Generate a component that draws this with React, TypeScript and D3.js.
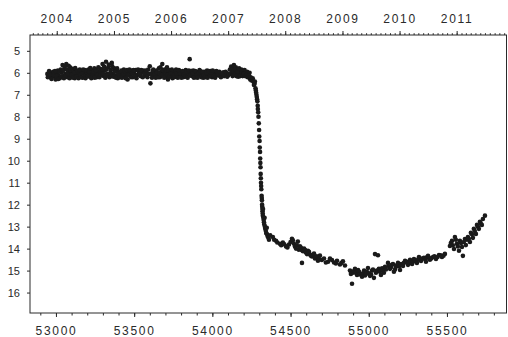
import React, { useEffect, useRef } from "react";
import * as d3 from "d3";

// [MJD, magnitude]
const plateau: [number, number][] = [
  [52945, 6.05], [52952, 6.15], [52960, 5.98], [52968, 6.22], [52975, 6.08], [52982, 5.95],
  [52990, 6.18], [52998, 6.3], [53005, 6.02], [53012, 5.9], [53018, 6.12], [53025, 6.25],
  [53030, 5.85], [53036, 6.0], [53042, 5.65], [53048, 6.15], [53054, 5.8], [53060, 6.05],
  [53066, 5.6], [53072, 6.2], [53078, 5.9], [53084, 6.1], [53090, 5.75], [53096, 6.0],
  [53102, 6.2], [53108, 5.95], [53114, 6.08], [53120, 6.25], [53126, 5.9], [53133, 6.05],
  [53140, 6.15], [53148, 5.98], [53156, 6.1], [53163, 5.92], [53170, 6.22], [53178, 6.0],
  [53185, 5.88], [53192, 6.12], [53200, 6.0], [53208, 5.85], [53215, 6.18], [53222, 6.02],
  [53230, 5.9], [53238, 6.12], [53245, 5.8], [53252, 6.05], [53260, 6.2], [53268, 5.95],
  [53275, 6.08], [53282, 5.82], [53290, 6.0], [53298, 5.6], [53305, 6.15], [53312, 5.9],
  [53320, 5.5], [53327, 6.05], [53334, 5.75], [53342, 6.2], [53350, 5.88], [53357, 5.55],
  [53364, 6.05], [53372, 5.8], [53380, 6.12], [53388, 5.92], [53395, 6.25], [53402, 5.98],
  [53410, 6.1], [53418, 5.9], [53426, 6.02], [53434, 5.85], [53442, 6.15], [53450, 6.0],
  [53458, 6.3], [53466, 5.95], [53475, 6.08], [53484, 5.9], [53492, 6.2], [53500, 6.02],
  [53510, 5.88], [53520, 6.1], [53530, 5.95], [53540, 6.15], [53550, 6.0], [53560, 5.9],
  [53570, 6.12], [53580, 6.0], [53590, 5.85], [53600, 5.7], [53604, 6.48], [53610, 6.05],
  [53618, 5.92], [53626, 6.15], [53634, 6.0], [53642, 5.9], [53650, 6.08], [53658, 5.8],
  [53665, 6.2], [53672, 5.95], [53680, 5.6], [53688, 6.05], [53696, 5.85], [53704, 6.15],
  [53710, 5.75], [53716, 6.3], [53722, 6.0], [53730, 5.9], [53738, 6.1], [53745, 6.25],
  [53752, 5.95], [53760, 6.05], [53768, 5.85], [53775, 6.15], [53782, 6.0], [53790, 5.92],
  [53798, 6.1], [53806, 5.98], [53814, 6.2], [53822, 6.0], [53830, 5.88], [53838, 6.1],
  [53846, 6.02], [53855, 5.38], [53862, 6.0], [53870, 6.15], [53878, 5.9], [53886, 6.05],
  [53894, 6.2], [53902, 5.95], [53910, 6.08], [53918, 5.88], [53926, 6.12], [53934, 6.0],
  [53942, 6.22], [53950, 5.95], [53958, 6.05], [53966, 5.9], [53974, 6.15], [53982, 6.02],
  [53990, 5.92], [53998, 6.2], [54006, 6.05], [54014, 5.95], [54022, 6.1], [54030, 6.0],
  [54040, 6.12], [54050, 6.02], [54060, 6.1], [54070, 5.98], [54080, 6.08], [54090, 6.0],
  [54100, 6.12], [54112, 5.85], [54120, 5.72], [54126, 6.0], [54132, 5.8], [54138, 5.65],
  [54144, 5.95], [54150, 5.75], [54156, 6.05], [54162, 5.85], [54168, 6.0], [54175, 5.9],
  [54182, 6.1], [54190, 5.95], [54198, 6.05], [54206, 5.88], [54214, 6.02], [54222, 5.95],
  [54230, 6.1], [54238, 6.0],
];

const plateauB: [number, number][] = [
  [52948, 6.2], [52956, 5.92], [52964, 6.1], [52972, 6.28], [52986, 6.1], [52994, 5.92],
  [53002, 6.15], [53015, 6.28], [53022, 5.95], [53033, 6.18], [53045, 5.9], [53051, 6.25],
  [53057, 5.7], [53063, 6.12], [53069, 5.85], [53075, 6.02], [53081, 5.68], [53087, 6.25],
  [53093, 5.88], [53099, 6.1], [53105, 5.82], [53111, 6.22], [53117, 6.0], [53123, 5.78],
  [53130, 6.18], [53137, 5.9], [53144, 6.25], [53152, 5.85], [53160, 6.2], [53167, 6.02],
  [53174, 5.85], [53182, 6.15], [53189, 6.25], [53196, 5.9], [53204, 6.15], [53212, 5.95],
  [53219, 5.78], [53226, 6.25], [53234, 6.0], [53241, 5.95], [53248, 6.22], [53256, 5.88],
  [53264, 6.1], [53271, 5.75], [53278, 6.2], [53286, 6.1], [53294, 5.85], [53301, 6.05],
  [53308, 5.72], [53316, 6.22], [53323, 5.85], [53330, 6.12], [53338, 5.62], [53346, 6.02],
  [53353, 6.15], [53360, 5.7], [53368, 6.18], [53376, 5.95], [53384, 6.22], [53391, 5.8],
  [53398, 6.05], [53406, 6.2], [53414, 5.95], [53422, 6.22], [53430, 6.05], [53438, 5.92],
  [53446, 6.25], [53454, 5.88], [53462, 6.1], [53470, 5.85], [53480, 6.2], [53488, 6.02],
  [53496, 5.88], [53505, 6.15], [53515, 6.25], [53525, 5.85], [53535, 6.05], [53545, 5.88],
  [53555, 6.2], [53565, 6.02], [53575, 5.9], [53585, 6.2], [53595, 6.05], [53614, 6.22],
  [53622, 5.85], [53630, 6.08], [53638, 6.22], [53646, 5.98], [53654, 6.2], [53662, 6.02],
  [53668, 5.75], [53676, 6.1], [53684, 5.88], [53692, 6.22], [53700, 6.0], [53707, 5.9],
  [53713, 6.1], [53719, 5.88], [53726, 6.18], [53734, 6.02], [53741, 5.85], [53749, 6.1],
  [53756, 6.2], [53764, 5.92], [53771, 6.05], [53779, 6.22], [53786, 5.88], [53794, 6.02],
  [53802, 6.22], [53810, 5.92], [53818, 6.08], [53826, 6.18], [53834, 5.95], [53842, 6.22],
  [53850, 5.9], [53858, 6.12], [53866, 5.92], [53874, 6.02], [53882, 6.22], [53890, 5.92],
  [53898, 6.1], [53906, 6.22], [53914, 6.0], [53922, 5.92], [53930, 6.2], [53938, 5.95],
  [53946, 6.1], [53954, 6.2], [53962, 6.0], [53970, 6.22], [53978, 5.92], [53986, 6.15],
  [53994, 6.0], [54002, 5.9], [54010, 6.15], [54018, 6.22], [54026, 5.92], [54035, 6.1],
  [54045, 5.95], [54055, 6.2], [54065, 6.05], [54075, 6.15], [54085, 5.95], [54095, 6.18],
  [54106, 6.05], [54116, 6.05], [54123, 5.88], [54129, 6.15], [54135, 5.95], [54141, 6.1],
  [54147, 5.85], [54153, 6.15], [54159, 5.95], [54165, 6.18], [54171, 5.8], [54178, 6.15],
  [54186, 5.85], [54194, 6.15], [54202, 6.05], [54210, 6.15], [54218, 6.1], [54226, 6.2],
  [54234, 6.12], [54242, 6.3],
];

const decline: [number, number][] = [
  [54245, 6.2], [54250, 6.35], [54255, 6.3], [54258, 6.25], [54262, 6.4], [54266, 6.55],
  [54270, 6.5], [54272, 6.4], [54276, 6.7], [54278, 6.8], [54280, 6.9], [54282, 7.0],
  [54284, 7.1], [54286, 7.2], [54288, 7.3], [54290, 7.5], [54291, 7.65], [54293, 7.8],
  [54295, 8.0], [54297, 8.3], [54299, 8.6], [54300, 8.9], [54302, 9.1], [54303, 9.4],
  [54305, 9.6], [54306, 9.9], [54307, 10.1], [54308, 10.3], [54309, 10.6], [54310, 10.8],
  [54311, 11.0], [54312, 11.15], [54313, 11.3], [54315, 11.6], [54316, 11.7], [54317, 11.8],
  [54318, 12.0], [54319, 12.1], [54320, 12.2], [54321, 12.3], [54322, 12.4], [54323, 12.5],
  [54324, 12.2], [54326, 12.6], [54328, 12.7], [54330, 12.8], [54332, 12.9], [54334, 12.6],
  [54336, 13.0], [54338, 13.1], [54342, 13.2], [54345, 13.3], [54348, 13.05], [54350, 13.35],
  [54354, 13.45], [54358, 13.5], [54362, 13.6], [54370, 13.4],
];

const fading: [number, number][] = [
  [54387, 13.47], [54395, 13.6], [54407, 13.64], [54415, 13.72], [54432, 13.78], [54440, 13.85],
  [54451, 13.72], [54460, 13.8], [54471, 13.9], [54480, 13.95], [54490, 13.81], [54500, 13.7],
  [54509, 13.55], [54515, 13.62], [54522, 13.78], [54528, 13.9], [54535, 14.0], [54540, 13.85],
  [54547, 13.68], [54553, 14.05], [54560, 13.9], [54566, 13.95], [54573, 14.08], [54573, 14.65],
  [54580, 14.12], [54586, 14.0], [54592, 14.05], [54598, 14.18], [54605, 14.25], [54611, 14.1],
  [54618, 14.15], [54624, 14.27], [54630, 14.32], [54637, 14.36], [54643, 14.3], [54650, 14.22],
  [54656, 14.45], [54662, 14.4], [54668, 14.35], [54675, 14.55], [54682, 14.48], [54688, 14.32],
  [54700, 14.52], [54714, 14.45], [54726, 14.63], [54740, 14.6], [54752, 14.45], [54765, 14.52],
  [54778, 14.63], [54790, 14.68], [54797, 14.55], [54816, 14.72], [54825, 14.65], [54835, 14.58],
  [54848, 14.77],
];

const minimum: [number, number][] = [
  [54880, 15.0], [54886, 15.15], [54893, 15.6], [54899, 15.1], [54905, 15.02], [54912, 14.92],
  [54918, 15.1], [54925, 15.2], [54932, 14.98], [54938, 15.05], [54945, 15.18], [54957, 15.28],
  [54963, 15.12], [54970, 15.0], [54976, 15.22], [54982, 15.15], [54988, 15.05], [54995, 14.88],
  [55002, 15.12], [55008, 15.24], [55015, 15.18], [55021, 15.0], [55027, 14.95], [55033, 15.33],
  [55040, 14.25], [55046, 15.1], [55052, 15.0], [55059, 14.3], [55065, 14.92], [55071, 15.05],
  [55078, 15.2], [55085, 14.9], [55091, 15.0], [55097, 15.1], [55104, 14.83], [55110, 14.95],
  [55123, 14.65], [55129, 14.8], [55136, 14.92], [55142, 14.85], [55148, 14.74], [55155, 14.7],
  [55161, 15.05], [55168, 14.95], [55174, 14.83], [55181, 14.75], [55187, 14.65], [55194, 14.8],
  [55200, 14.97], [55207, 14.7], [55219, 14.79], [55225, 14.65], [55232, 14.56], [55245, 14.6],
  [55251, 14.74], [55258, 14.62], [55264, 14.51], [55270, 14.58], [55277, 14.7], [55283, 14.6],
  [55289, 14.47], [55296, 14.55], [55308, 14.65], [55315, 14.5], [55321, 14.38], [55334, 14.56],
  [55340, 14.45], [55353, 14.42], [55360, 14.48], [55366, 14.6], [55372, 14.4], [55379, 14.33],
  [55385, 14.42], [55391, 14.51], [55400, 14.45], [55411, 14.38], [55420, 14.35], [55430, 14.47],
  [55440, 14.38], [55449, 14.29], [55460, 14.3], [55468, 14.38], [55478, 14.32], [55487, 14.24],
];

const recovery: [number, number][] = [
  [55519, 13.88], [55525, 13.75], [55532, 13.65], [55538, 13.85], [55545, 14.02], [55551, 13.47],
  [55557, 13.6], [55564, 13.78], [55570, 13.9], [55577, 14.1], [55583, 13.65], [55590, 13.75],
  [55596, 13.93], [55602, 14.33], [55608, 13.7], [55615, 13.56], [55621, 13.84], [55628, 13.6],
  [55634, 13.47], [55640, 13.55], [55647, 13.7], [55653, 13.28], [55660, 13.35], [55666, 13.51],
  [55672, 13.1], [55678, 13.2], [55685, 13.33], [55692, 12.92], [55698, 13.0], [55704, 13.1],
  [55711, 12.78], [55716, 12.85], [55723, 12.92], [55730, 12.65], [55743, 12.5],
];

const magTicks = [5, 6, 7, 8, 9, 10, 11, 12, 13, 14, 15, 16];
const mjdTicks = [53000, 53500, 54000, 54500, 55000, 55500];
const years = [2004, 2005, 2006, 2007, 2008, 2009, 2010, 2011];

const W = 508;
const H = 337;
const FONT = "'Liberation Sans', Arial, sans-serif";
const INK = "#2a2a2a";

const mjdToDate = (m: number) => new Date((m - 40587) * 86400000);

const App = () => {
  const ref = useRef<SVGSVGElement>(null);

  useEffect(() => {
    const svg = d3.select(ref.current);
    svg.selectAll("*").remove();

    const margin = { top: 35, right: 1, bottom: 24, left: 30 };
    const x = d3.scaleLinear().domain([52834, 55884]).range([margin.left, W - margin.right]);
    const y = d3.scaleLinear().domain([4.28, 16.93]).range([margin.top, H - margin.bottom]);
    const t = d3.scaleUtc().domain([mjdToDate(52834), mjdToDate(55884)]).range(x.range());

    const data = [...plateau, ...plateauB, ...decline, ...fading, ...minimum, ...recovery];

    // puntos
    svg.append("g")
      .selectAll("circle")
      .data(data)
      .enter()
      .append("circle")
      .attr("cx", (d) => x(d[0]))
      .attr("cy", (d) => y(d[1]))
      .attr("r", 2.3)
      .attr("fill", "#1a1a1a");

    const style = (g: any, size: number, spacing: number) => {
      g.select(".domain").remove();
      g.selectAll("line").attr("stroke", INK);
      g.selectAll("text")
        .attr("font-family", FONT)
        .attr("font-size", size)
        .attr("letter-spacing", spacing)
        .attr("fill", INK);
    };

    const bottom = H - margin.bottom;

    // eje inferior: minor + major
    svg.append("g")
      .attr("transform", `translate(0, ${bottom})`)
      .call(d3.axisBottom(x).tickValues(d3.range(52900, 55900, 100)).tickSize(2.5).tickFormat(() => ""))
      .call((g: any) => style(g, 12, 0));
    svg.append("g")
      .attr("transform", `translate(0, ${bottom})`)
      .call(d3.axisBottom(x).tickValues(mjdTicks).tickSize(4).tickPadding(9).tickFormat(d3.format("d")))
      .call((g: any) => style(g, 12, 1.7));

    // eje superior con años
    const monthTicks = d3.utcMonth.range(mjdToDate(52834), mjdToDate(55884));
    svg.append("g")
      .attr("transform", `translate(0, ${margin.top})`)
      .call(d3.axisTop(t).tickValues(monthTicks).tickSize(1.8).tickFormat(() => ""))
      .call((g: any) => style(g, 12, 0));
    svg.append("g")
      .attr("transform", `translate(0, ${margin.top})`)
      .call(
        d3.axisTop(t)
          .tickValues(years.map((yr) => new Date(Date.UTC(yr, 0, 1))))
          .tickSize(4)
          .tickPadding(8)
          .tickFormat((d: any) => String(d.getUTCFullYear()))
      )
      .call((g: any) => style(g, 12, 1.7));

    // eje izquierdo
    svg.append("g")
      .attr("transform", `translate(${margin.left}, 0)`)
      .call(d3.axisLeft(y).tickValues(magTicks).tickSize(3).tickPadding(7).tickFormat(d3.format("d")))
      .call((g: any) => style(g, 11, 0));

    // marco
    svg.append("rect")
      .attr("x", margin.left)
      .attr("y", margin.top)
      .attr("width", W - margin.right - margin.left - 0.5)
      .attr("height", bottom - margin.top)
      .attr("fill", "none")
      .attr("stroke", INK)
      .attr("stroke-width", 1);
  }, []);

  return (
    <svg
      ref={ref}
      width={W}
      height={H}
      style={{ position: "absolute", left: 0, top: 0, background: "#fff" }}
    />
  );
};

export default App;
